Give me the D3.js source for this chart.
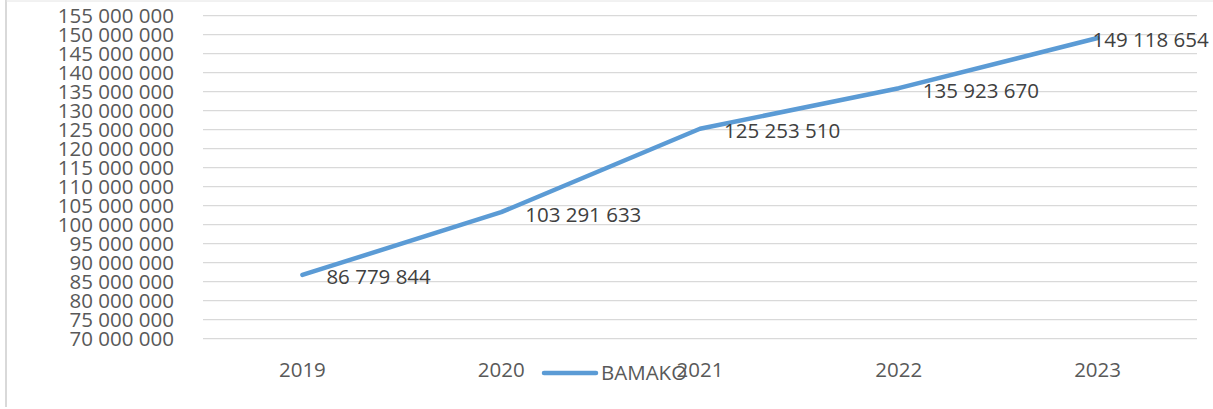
<!DOCTYPE html>
<html>
<head>
<meta charset="utf-8">
<script src="https://cdn.jsdelivr.net/npm/d3@7"></script>
<style>
  body { margin: 0; background: #fff; }
  text { font-family: "Open Sans", "Liberation Sans", sans-serif; }
</style>
</head>
<body>
<div id="chart"></div>
<script>
const years = ["2019", "2020", "2021", "2022", "2023"];
const bamako = [86779844, 103291633, 125253510, 135923670, 149118654];
const yTicks = d3.range(70000000, 155000001, 5000000);
const seriesName = "BAMAKO";

const width = 1213;
const height = 409;

const fmt = v => d3.format(",")(v).replace(/,/g, " ");

const svg = d3.select("#chart")
    .append("svg")
    .attr("width", width)
    .attr("height", height);

// outer frame (only left and top edges visible)
svg.append("line").attr("x1", 6).attr("x2", 6).attr("y1", 0).attr("y2", 407)
    .attr("stroke", "#d9d9d9").attr("stroke-width", 2);
svg.append("line").attr("x1", 6).attr("x2", width).attr("y1", 1).attr("y2", 1)
    .attr("stroke", "#e4e4e4").attr("stroke-width", 1);

const x = d3.scaleBand()
    .domain(years)
    .range([203, 1197]);

const y = d3.scaleLinear()
    .domain([70000000, 155000000])
    .range([338.7, 15.7]);

// gridlines
svg.append("g")
    .selectAll("line")
    .data(yTicks)
    .enter().append("line")
    .attr("x1", 203)
    .attr("x2", 1197)
    .attr("y1", d => y(d))
    .attr("y2", d => y(d))
    .attr("stroke", "#d9d9d9")
    .attr("stroke-width", 1.3);

// y axis labels
svg.append("g")
    .selectAll("text")
    .data(yTicks)
    .enter().append("text")
    .attr("x", 174)
    .attr("y", d => y(d))
    .attr("dy", "0.36em")
    .attr("text-anchor", "end")
    .attr("font-size", 20.5)
    .attr("fill", "#595959")
    .text(fmt);

// x axis labels
svg.append("g")
    .selectAll("text")
    .data(years)
    .enter().append("text")
    .attr("x", d => x(d) + x.bandwidth() / 2)
    .attr("y", 370)
    .attr("dy", "0.36em")
    .attr("text-anchor", "middle")
    .attr("font-size", 20.5)
    .attr("fill", "#595959")
    .text(d => d);

// line
const line = d3.line()
    .x((d, i) => x(years[i]) + x.bandwidth() / 2)
    .y(d => y(d));

svg.append("path")
    .datum(bamako)
    .attr("d", line)
    .attr("fill", "none")
    .attr("stroke", "#5b9bd5")
    .attr("stroke-width", 4.5)
    .attr("stroke-linecap", "round")
    .attr("stroke-linejoin", "round");

// data labels
svg.append("g")
    .selectAll("text")
    .data(bamako)
    .enter().append("text")
    .attr("x", (d, i) => i === bamako.length - 1
        ? x(years[i]) + x.bandwidth() / 2 - 5
        : x(years[i]) + x.bandwidth() / 2 + 24)
    .attr("y", d => y(d) + 2)
    .attr("dy", "0.36em")
    .attr("font-size", 20.5)
    .attr("fill", "#404040")
    .text(fmt);

// legend
svg.append("line")
    .attr("x1", 544).attr("x2", 596)
    .attr("y1", 373).attr("y2", 373)
    .attr("stroke", "#5b9bd5")
    .attr("stroke-width", 4.5)
    .attr("stroke-linecap", "round");
svg.append("text")
    .attr("x", 601)
    .attr("y", 373)
    .attr("dy", "0.36em")
    .attr("font-size", 20.5)
    .attr("fill", "#595959")
    .text(seriesName);
</script>
</body>
</html>
